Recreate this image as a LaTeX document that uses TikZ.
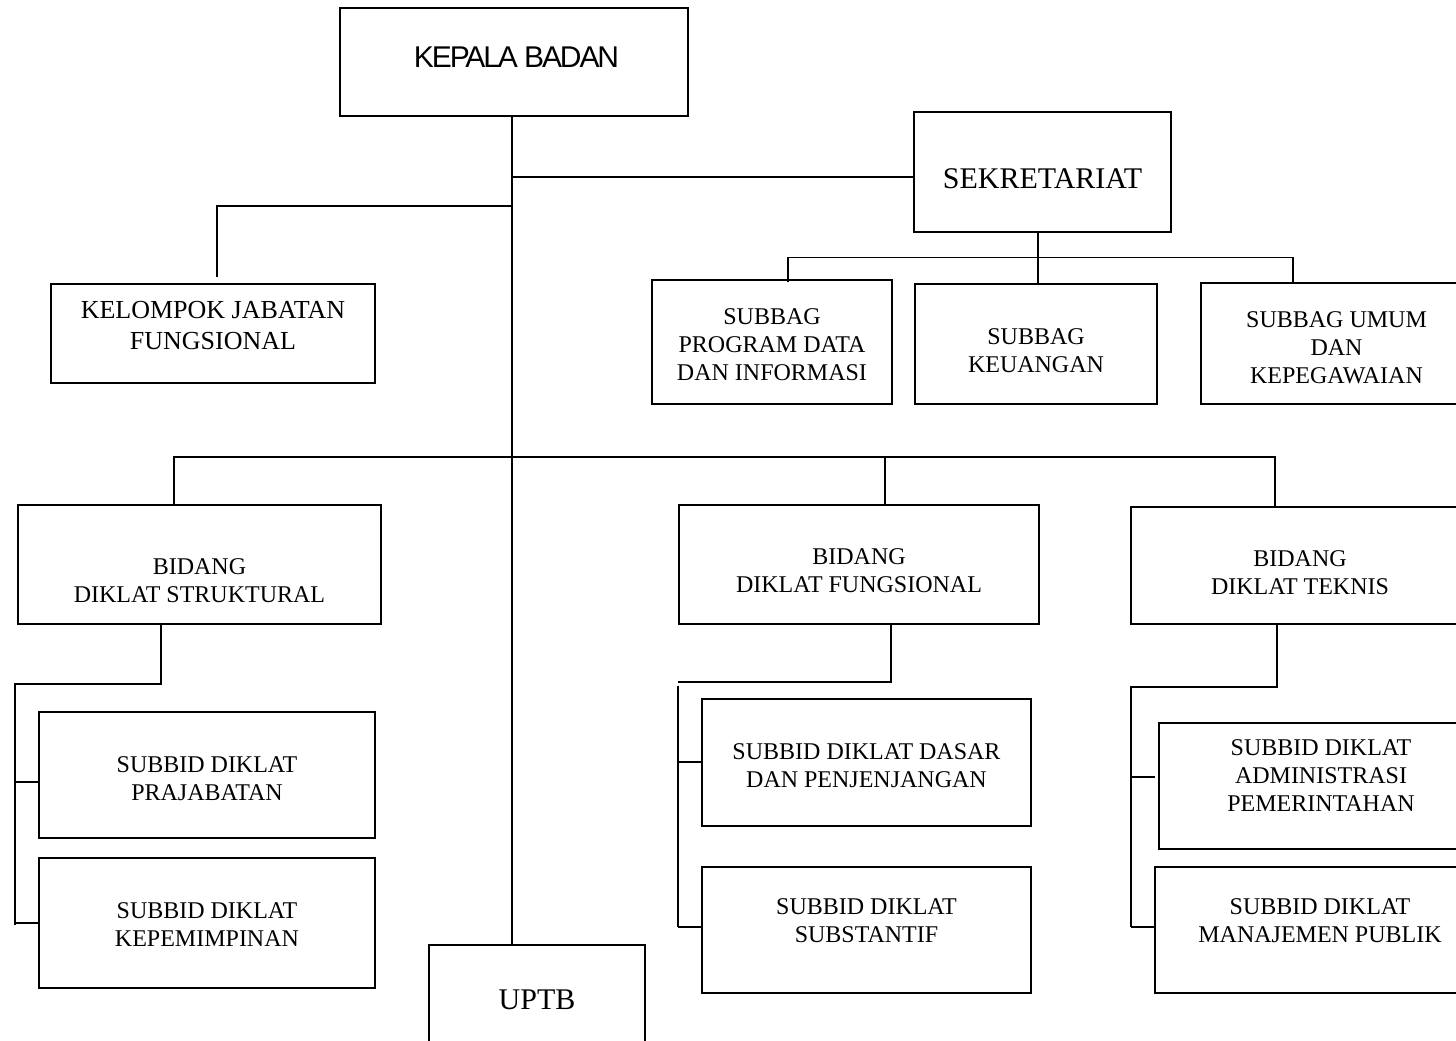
\documentclass[tikz,border=0pt]{standalone}
\usepackage{fontspec}
\setmainfont{Liberation Serif}
\newfontfamily\kbfont[LetterSpace=-7]{Liberation Sans}
\begin{document}
\begin{tikzpicture}[x=1pt,y=-1pt,
  box/.style={draw, line width=1.5pt, rectangle, inner sep=0pt},
  txt/.style={align=center, inner sep=0pt, font=\fontsize{24}{28}\selectfont},
  bigtxt/.style={align=center, inner sep=0pt, font=\fontsize{30}{34}\selectfont},
  ln/.style={line width=1.5pt}]
\useasboundingbox (0,0) rectangle (1456,1041);
\begin{scope}
\clip (0,0) rectangle (1456,1041);
% boxes
\node[box, minimum width=348pt, minimum height=108pt,
  label={[bigtxt, font=\kbfont\fontsize{30}{34}\selectfont, xshift=2.5pt, yshift=5pt]center:KEPALA BADAN}] (kb) at (514,62) {};
\node[box, minimum width=257pt, minimum height=120pt,
  label={[bigtxt, yshift=-7pt]center:SEKRETARIAT}] (sek) at (1042.5,172) {};
\node[box, minimum width=324pt, minimum height=99pt,
  label={[txt, font=\fontsize{26}{31}\selectfont, yshift=7.5pt]center:{KELOMPOK JABATAN\\FUNGSIONAL}}] (kjf) at (213,333.5) {};
\node[box, minimum width=240pt, minimum height=124pt,
  label={[txt, yshift=-3pt]center:{SUBBAG\\PROGRAM DATA\\DAN INFORMASI}}] (sp) at (772,342) {};
\node[box, minimum width=242pt, minimum height=120pt,
  label={[txt, yshift=-6.5pt]center:{SUBBAG\\KEUANGAN}}] (sk) at (1036,344) {};
\node[box, minimum width=271pt, minimum height=121pt,
  label={[txt, yshift=-4pt]center:{SUBBAG UMUM\\DAN\\KEPEGAWAIAN}}] (su) at (1336.5,343.5) {};
\node[box, minimum width=363pt, minimum height=119pt,
  label={[txt, yshift=-16.5pt]center:{BIDANG\\DIKLAT STRUKTURAL}}] (bds) at (199.5,564.5) {};
\node[box, minimum width=360pt, minimum height=119pt,
  label={[txt, yshift=-6.5pt]center:{BIDANG\\DIKLAT FUNGSIONAL}}] (bdf) at (859,564.5) {};
\node[box, minimum width=338pt, minimum height=117pt,
  label={[txt, yshift=-7.5pt]center:{BIDANG\\DIKLAT TEKNIS}}] (bdt) at (1300,565.5) {};
\node[box, minimum width=336pt, minimum height=126pt,
  label={[txt, yshift=-4pt]center:{SUBBID DIKLAT\\PRAJABATAN}}] (s1) at (207,775) {};
\node[box, minimum width=336pt, minimum height=130pt,
  label={[txt, yshift=-1.5pt]center:{SUBBID DIKLAT\\KEPEMIMPINAN}}] (s2) at (207,923) {};
\node[box, minimum width=329pt, minimum height=127pt,
  label={[txt, yshift=-3pt]center:{SUBBID DIKLAT DASAR\\DAN PENJENJANGAN}}] (s3) at (866.5,762.5) {};
\node[box, minimum width=329pt, minimum height=126pt,
  label={[txt, yshift=9pt]center:{SUBBID DIKLAT\\SUBSTANTIF}}] (s4) at (866.5,930) {};
\node[box, minimum width=324pt, minimum height=126pt,
  label={[txt, yshift=10pt]center:{SUBBID DIKLAT\\ADMINISTRASI\\PEMERINTAHAN}}] (s5) at (1321,786) {};
\node[box, minimum width=330pt, minimum height=126pt,
  label={[txt, yshift=9pt]center:{SUBBID DIKLAT\\MANAJEMEN PUBLIK}}] (s6) at (1320,930) {};
\node[box, minimum width=216pt, minimum height=110pt,
  label={[bigtxt]center:UPTB}] (uptb) at (537,1000) {};
% helper coordinates
\coordinate (spx) at (512,0);
\coordinate (j1) at (512,177);
\coordinate (j2) at (512,206);
\coordinate (kx) at (217,0);
\coordinate (sx) at (1038,0);
\coordinate (sbar) at (0,257.5);
\coordinate (a1) at (788,0);
\coordinate (a3) at (1293,0);
\coordinate (bar) at (0,457);
\coordinate (b1) at (174,0);
\coordinate (b2) at (885,0);
\coordinate (b3) at (1275,0);
% spine
\draw[ln] (kb.south -| spx) -- (uptb.north -| spx);
\draw[ln] (j1) -- (j1 -| sek.west);
\draw[ln] (j2) -| ([yshift=6pt]kjf.north -| kx);
% sekretariat
\draw[ln] (sek.south -| sx) -- (sk.north -| sx);
\draw[ln] ([yshift=-3pt]sp.north -| a1) -- (a1 |- sbar) -- (a3 |- sbar) -- (su.north -| a3);
% bidang bar
\draw[ln] (bds.north -| b1) -- (b1 |- bar) -- (b3 |- bar) -- (bdt.north -| b3);
\draw[ln] (b2 |- bar) -- (bdf.north -| b2);
% left subtree
\coordinate (l1) at (161,684);
\coordinate (l2) at (15,684);
\coordinate (l3) at (15,925);
\draw[ln] (bds.south -| l1) -- (l1) -- (l2) -- (l3);
\draw[ln] (15,782) coordinate (lt1) -- (lt1 -| s1.west);
\draw[ln] (15,923) coordinate (lt2) -- (lt2 -| s2.west);
% middle subtree
\coordinate (m1) at (891,682);
\coordinate (m2) at (678,682);
\draw[ln] (bdf.south -| m1) -- (m1) -- (m2);
\draw[ln] (678,686) -- (678,927);
\draw[ln] (678,762) coordinate (mt1) -- (mt1 -| s3.west);
\draw[ln] (678,927) coordinate (mt2) -- (mt2 -| s4.west);
% right subtree
\coordinate (r1) at (1277,687);
\coordinate (r2) at (1131,687);
\coordinate (r3) at (1131,927);
\draw[ln] (bdt.south -| r1) -- (r1) -- (r2) -- (r3);
\draw[ln] (1131,777) coordinate (rt1) -- ([xshift=-3pt]rt1 -| s5.west);
\draw[ln] (1131,927) coordinate (rt2) -- ([xshift=2pt]rt2 -| s6.west);
\end{scope}
\end{tikzpicture}
\end{document}
